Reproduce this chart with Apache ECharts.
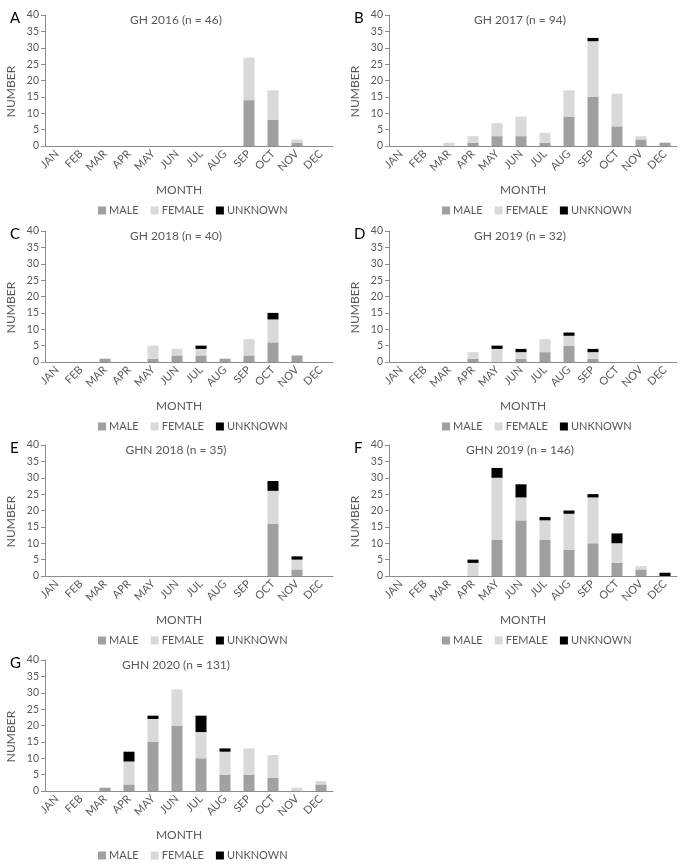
<!DOCTYPE html>
<html>
<head>
<meta charset="utf-8">
<script src="https://cdn.jsdelivr.net/npm/echarts@6/dist/echarts.min.js"></script>
<style>
html,body{margin:0;padding:0;background:#fff;}
#chart{width:688px;height:866px;}
</style>
</head>
<body>
<div id="chart"></div>
<script>
const months = ['JAN','FEB','MAR','APR','MAY','JUN','JUL','AUG','SEP','OCT','NOV','DEC'];
const panelLetters = ['A','B','C','D','E','F','G'];
const panelTitles = ['GH 2016 (n = 46)','GH 2017 (n = 94)','GH 2018 (n = 40)','GH 2019 (n = 32)','GHN 2018 (n = 35)','GHN 2019 (n = 146)','GHN 2020 (n = 131)'];
const seriesNames = ['MALE','FEMALE','UNKNOWN'];
const yTicks = [0,5,10,15,20,25,30,35,40];

// GH 2016
const maleA    = [0,0,0,0,0,0,0,0,14,8,1,0];
const femaleA  = [0,0,0,0,0,0,0,0,13,9,1,0];
const unknownA = [0,0,0,0,0,0,0,0,0,0,0,0];
// GH 2017
const maleB    = [0,0,0,1,3,3,1,9,15,6,2,1];
const femaleB  = [0,0,1,2,4,6,3,8,17,10,1,0];
const unknownB = [0,0,0,0,0,0,0,0,1,0,0,0];
// GH 2018
const maleC    = [0,0,1,0,1,2,2,1,2,6,2,0];
const femaleC  = [0,0,0,0,4,2,2,0,5,7,0,0];
const unknownC = [0,0,0,0,0,0,1,0,0,2,0,0];
// GH 2019
const maleD    = [0,0,0,1,0,1,3,5,1,0,0,0];
const femaleD  = [0,0,0,2,4,2,4,3,2,0,0,0];
const unknownD = [0,0,0,0,1,1,0,1,1,0,0,0];
// GHN 2018
const maleE    = [0,0,0,0,0,0,0,0,0,16,2,0];
const femaleE  = [0,0,0,0,0,0,0,0,0,10,3,0];
const unknownE = [0,0,0,0,0,0,0,0,0,3,1,0];
// GHN 2019
const maleF    = [0,0,0,0,11,17,11,8,10,4,2,0];
const femaleF  = [0,0,0,4,19,7,6,11,14,6,1,0];
const unknownF = [0,0,0,1,3,4,1,1,1,3,0,1];
// GHN 2020
const maleG    = [0,0,1,2,15,20,10,5,5,4,0,2];
const femaleG  = [0,0,0,7,7,11,8,7,8,7,1,1];
const unknownG = [0,0,0,3,1,0,5,1,0,0,0,0];

const panels = [
  [maleA,femaleA,unknownA],
  [maleB,femaleB,unknownB],
  [maleC,femaleC,unknownC],
  [maleD,femaleD,unknownD],
  [maleE,femaleE,unknownE],
  [maleF,femaleF,unknownF],
  [maleG,femaleG,unknownG]
];

const colors = ['#a0a0a0','#d9d9d9','#000000'];
const rowOffsets = [0, 216, 430, 645];
const FONT = 'Lato';
const TXT = '#595959';

const grids = [], xAxes = [], yAxes = [], series = [], titles = [], legends = [];
panels.forEach((p, i) => {
  const col = i % 2, row = Math.floor(i / 2);
  const xOff = col * 344, yOff = rowOffsets[row];
  grids.push({left: xOff + 45, top: yOff + 15, width: 288, height: 131});
  xAxes.push({
    gridIndex: i, type: 'category', data: months,
    axisLine: {lineStyle: {color: '#8c8c8c', width: 1}},
    axisTick: {show: false},
    axisLabel: {rotate: 45, interval: 0, fontSize: 11, color: TXT, fontFamily: FONT, margin: 6},
    name: 'MONTH', nameLocation: 'middle', nameGap: 38,
    nameTextStyle: {fontSize: 12, color: TXT, fontFamily: FONT, padding: [0, 20, 0, 0]}
  });
  yAxes.push({
    gridIndex: i, type: 'value', min: yTicks[0], max: yTicks[yTicks.length - 1], interval: 5,
    axisLine: {show: true, lineStyle: {color: '#8c8c8c', width: 1}},
    axisTick: {show: true, length: 4, lineStyle: {color: '#8c8c8c'}},
    splitLine: {show: false},
    axisLabel: {fontSize: 10.5, color: TXT, fontFamily: FONT, margin: 6},
    name: 'NUMBER', nameLocation: 'middle', nameGap: 28,
    nameTextStyle: {fontSize: 12, color: TXT, fontFamily: FONT, padding: [0, 22, 0, 0]}
  });
  titles.push({
    text: panelTitles[i], left: xOff + 171, top: yOff + 9, textAlign: 'center',
    textStyle: {fontSize: 12, fontWeight: 'normal', color: TXT, fontFamily: FONT}
  });
  titles.push({
    text: panelLetters[i], left: xOff + 5, top: yOff + 6,
    textStyle: {fontSize: 15, fontWeight: 'normal', color: '#000', fontFamily: FONT}
  });
  legends.push({
    data: seriesNames, left: xOff + 93, top: yOff + 200,
    itemWidth: 8, itemHeight: 8, itemGap: 12, icon: 'rect',
    selectedMode: false,
    textStyle: {fontSize: 11, color: TXT, fontFamily: FONT, padding: [0, 0, 0, -2]}
  });
  p.forEach((vals, k) => {
    series.push({
      name: seriesNames[k], type: 'bar', xAxisIndex: i, yAxisIndex: i,
      stack: 'panel' + i, barWidth: '46%', data: vals,
      itemStyle: {color: colors[k]}, animation: false
    });
  });
});

const chart = echarts.init(document.getElementById('chart'), null, {renderer: 'canvas'});
chart.setOption({
  animation: false,
  color: colors,
  title: titles,
  legend: legends,
  grid: grids,
  xAxis: xAxes,
  yAxis: yAxes,
  series: series
});
</script>
</body>
</html>
